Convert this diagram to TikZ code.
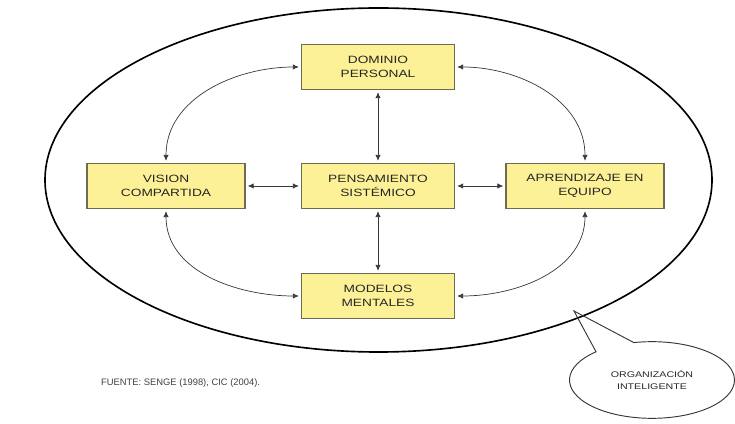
\documentclass[tikz,border=0pt]{standalone}
\usepackage{fontspec}
\setmainfont{Liberation Sans}
\newfontfamily\boxfont[FakeStretch=1.3]{Liberation Sans}
\usepackage{tikz}
\usetikzlibrary{arrows.meta}
\usetikzlibrary{shapes.callouts}
\definecolor{boxfill}{RGB}{252,241,150}
\definecolor{boxline}{RGB}{110,108,80}
\definecolor{inkgray}{RGB}{55,55,55}

\begin{document}
\begin{tikzpicture}[x=0.03cm, y=0.03cm,
  discbox/.style={draw=boxline, line width=1.3pt, fill=boxfill, minimum width=4.6cm, minimum height=1.36cm,
    inner sep=0pt, align=center, text=black!85, font=\boxfont\fontsize{9}{12}\selectfont},
  link/.style={{Latex[length=5pt,width=4.5pt]}-{Latex[length=5pt,width=4.5pt]}, line width=0.6pt, draw=inkgray,
    shorten <=1.5pt, shorten >=1.5pt}]
\useasboundingbox (0,0) rectangle (735,423);
% -- outer ring --
\draw[line width=1.4pt] (378.5,243) ellipse [x radius=333.5, y radius=172];
% -- the five disciplines --
\node[discbox] (dominio) at (378,356) {DOMINIO\\PERSONAL};
\node[discbox] (pensamiento) at (378,237) {PENSAMIENTO\\SISTÉMICO};
\node[discbox, minimum width=4.75cm] (vision) at (166,237) {VISION\\COMPARTIDA};
\node[discbox, minimum width=4.75cm] (aprendizaje) at (585,237) {APRENDIZAJE EN\\EQUIPO};
\node[discbox] (modelos) at (378,127) {MODELOS\\MENTALES};
% -- curved links --
\draw[link] (dominio.west) to[out=180, in=90] (vision.north);
\draw[link] (dominio.east) to[out=0, in=90] (aprendizaje.north);
\draw[link] (vision.south) to[out=-90, in=180] (modelos.west);
\draw[link] (aprendizaje.south) to[out=-90, in=0] (modelos.east);
% -- straight links --
\draw[link] (dominio) -- (pensamiento);
\draw[link] (pensamiento) -- (modelos);
\draw[link] (vision) -- (pensamiento);
\draw[link] (pensamiento) -- (aprendizaje);
% -- callout and source --
\coordinate (tip) at (574,112);
\node[ellipse callout, draw=inkgray, line width=0.8pt, callout absolute pointer={(tip)}, callout pointer arc=30,
  minimum width=4.95cm, minimum height=2.3cm, align=center, text=black!85,
  font=\boxfont\fontsize{7}{10}\selectfont] (organizacion) at (652,43) {ORGANIZACIÓN\\INTELIGENTE};
\node[anchor=west, text=black!75, font=\fontsize{8}{10}\selectfont] (fuente) at (97,40) {FUENTE: SENGE (1998), CIC (2004).};
\end{tikzpicture}
\end{document}
